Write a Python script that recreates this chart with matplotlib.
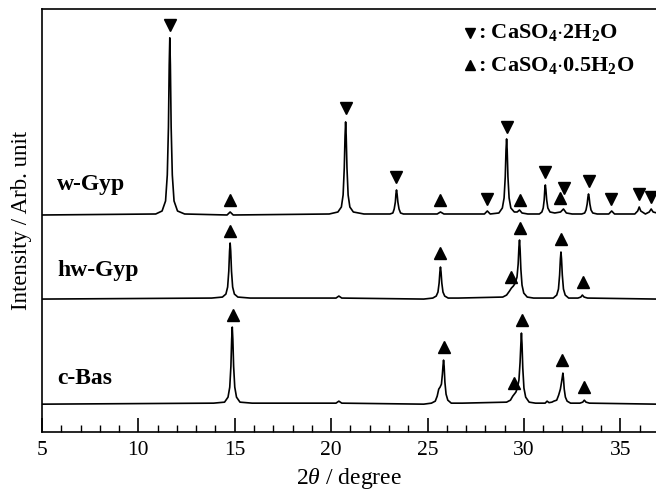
import matplotlib
matplotlib.use("Agg")
import matplotlib.pyplot as plt
from matplotlib.ticker import MultipleLocator

plt.rcParams["font.family"] = ["Liberation Serif", "DejaVu Serif"]
plt.rcParams["mathtext.fontset"] = "custom"
plt.rcParams["mathtext.rm"] = "Liberation Serif"
plt.rcParams["mathtext.it"] = "Liberation Serif:italic"
plt.rcParams["mathtext.bf"] = "Liberation Serif:bold"

# XRD traces (2theta in degree, intensity above baseline)
wgyp_2theta = [5.0, 10.9, 11.23, 11.41, 11.5, 11.56, 11.6, 11.63, 11.66, 11.7, 11.76, 11.85,
               12.03, 12.4, 14.6, 14.76, 14.92, 19.9, 20.35, 20.53, 20.62, 20.68, 20.72,
               20.75, 20.78, 20.82, 20.88, 20.97, 21.15, 21.7, 23.05, 23.2, 23.27, 23.33,
               23.36, 23.39, 23.42, 23.46, 23.52, 23.6, 23.75, 25.5, 25.67, 25.85, 27.95,
               28.1, 28.25, 28.7, 28.88, 28.97, 29.03, 29.07, 29.1, 29.13, 29.17, 29.23,
               29.32, 29.5, 29.65, 29.77, 29.9, 30.2, 30.8, 30.93, 31.0, 31.05, 31.08,
               31.11, 31.14, 31.18, 31.24, 31.35, 31.6, 31.9, 32.05, 32.2, 32.5, 33.0,
               33.15, 33.22, 33.28, 33.32, 33.35, 33.38, 33.42, 33.48, 33.57, 33.8, 34.4,
               34.55, 34.7, 35.75, 35.9, 35.98, 36.06, 36.3, 36.5, 36.6, 36.7, 36.9]
wgyp_int = [0, 1, 4, 14, 40, 88, 150, 177, 150, 88, 40, 14,
            4, 1, 0, 3, 0, 1, 3, 8, 20, 47, 79,
            93, 79, 47, 20, 8, 3, 1, 1, 2, 6, 13,
            21, 25, 21, 13, 6, 2, 1, 1, 3, 1, 1,
            4, 1, 2, 7, 17, 38, 65, 76, 65, 38, 17,
            7, 3, 3, 5, 2, 1, 1, 3, 7, 15, 25,
            30, 25, 15, 7, 3, 2, 3, 6, 2, 1, 1,
            2, 5, 11, 18, 21, 18, 11, 5, 2, 1, 1,
            4, 1, 1, 4, 8, 4, 1, 3, 6, 3, 2]

hwgyp_2theta = [5.0, 13.8, 14.36, 14.54, 14.63, 14.69, 14.73, 14.76, 14.79, 14.83, 14.89,
                14.98, 15.16, 15.8, 20.25, 20.4, 20.55, 24.8, 25.27, 25.45, 25.54, 25.6,
                25.64, 25.67, 25.7, 25.74, 25.8, 25.89, 26.07, 26.6, 28.9, 29.1, 29.25,
                29.35, 29.45, 29.55, 29.64, 29.7, 29.74, 29.77, 29.8, 29.84, 29.9, 29.99,
                30.17, 30.5, 31.52, 31.7, 31.79, 31.85, 31.89, 31.92, 31.95, 31.99, 32.05,
                32.14, 32.32, 32.8, 32.95, 33.03, 33.12, 33.3, 36.9]
hwgyp_int = [0, 1, 2, 5, 12, 28, 48, 56, 48, 28, 12,
             5, 2, 1, 1, 3, 1, 0, 1, 3, 7, 16,
             27, 32, 27, 16, 7, 3, 1, 1, 2, 4, 8,
             11, 13, 16, 22, 35, 52, 59, 50, 30, 14, 6,
             2, 1, 1, 4, 10, 24, 40, 47, 40, 24, 10,
             4, 1, 1, 2, 4, 2, 1, 0]

cbas_2theta = [5.0, 13.9, 14.47, 14.65, 14.74, 14.8, 14.84, 14.87, 14.9, 14.94, 15.0,
               15.09, 15.27, 15.9, 20.25, 20.4, 20.55, 24.8, 25.2, 25.4, 25.5, 25.58,
               25.65, 25.72, 25.77, 25.8, 25.83, 25.86, 25.9, 25.96, 26.05, 26.23, 26.8,
               29.1, 29.3, 29.42, 29.5, 29.58, 29.66, 29.74, 29.8, 29.84, 29.87, 29.9,
               29.94, 30.0, 30.09, 30.27, 30.6, 31.1, 31.2, 31.3, 31.45, 31.55, 31.7,
               31.8, 31.89, 31.95, 31.99, 32.02, 32.05, 32.09, 32.15, 32.24, 32.42, 32.9,
               33.05, 33.13, 33.22, 33.4, 36.9]
cbas_int = [0, 1, 2, 7, 17, 38, 65, 77, 65, 38, 17,
            7, 2, 1, 1, 3, 1, 0, 1, 3, 8, 15,
            17, 20, 30, 38, 44, 38, 22, 10, 4, 1, 1,
            2, 4, 8, 10, 12, 16, 24, 42, 60, 71, 60,
            36, 16, 7, 2, 1, 1, 3, 1.5, 2, 3, 4,
            9, 15, 22, 27, 31, 26, 15, 7, 3, 1, 1,
            2, 4, 2, 1, 0]

sample_names = ["w-Gyp", "hw-Gyp", "c-Bas"]

# phase markers: (2theta, height in plot units)
wgyp_dihydrate_x = [11.63, 20.75, 23.38, 28.08, 29.1, 31.1, 32.1, 33.35, 34.53, 35.98, 36.6]
wgyp_dihydrate_y = [407, 324, 255, 233, 305, 260, 244, 251, 233, 238, 235]
wgyp_hemi_x = [14.76, 25.66, 29.77, 31.86]
wgyp_hemi_y = [232, 232, 232, 234]
hwgyp_hemi_x = [14.76, 25.67, 29.35, 29.77, 31.9, 33.05]
hwgyp_hemi_y = [201, 179, 155, 204, 193, 150]
cbas_hemi_x = [14.9, 25.85, 29.47, 29.88, 32.0, 33.13]
cbas_hemi_y = [117, 85, 49, 112, 72, 45]

offsets = {"w-Gyp": 217, "hw-Gyp": 133, "c-Bas": 28}
label_y = {"w-Gyp": 247, "hw-Gyp": 162, "c-Bas": 54}

fig = plt.figure(figsize=(6.56, 4.9), dpi=100)
ax = fig.add_axes([0.064, 0.118, 0.936, 0.864])

traces = [(wgyp_2theta, wgyp_int), (hwgyp_2theta, hwgyp_int), (cbas_2theta, cbas_int)]
for name, (tt, inten) in zip(sample_names, traces):
    ax.plot(tt, [v + offsets[name] for v in inten], color="black", lw=1.2)
    ax.text(5.8, label_y[name], name, fontsize=17, fontweight="bold", va="center")

ms = 8
ax.plot(wgyp_dihydrate_x, wgyp_dihydrate_y, "kv", ms=ms, ls="none", clip_on=False)
for xs, ys in [(wgyp_hemi_x, wgyp_hemi_y), (hwgyp_hemi_x, hwgyp_hemi_y),
               (cbas_hemi_x, cbas_hemi_y)]:
    ax.plot(xs, ys, "k^", ms=ms, ls="none", clip_on=False)

# legend
ax.plot([0.697], [0.944], "kv", ms=7.5, transform=ax.transAxes)
ax.plot([0.697], [0.867], "k^", ms=7.5, transform=ax.transAxes)
ax.text(0.71, 0.944, r": $\mathbf{CaSO_4}$$\mathbf{\cdot 2H_2O}$", transform=ax.transAxes,
        fontsize=16, fontweight="bold", va="center")
ax.text(0.71, 0.867, r": $\mathbf{CaSO_4}$$\mathbf{\cdot 0.5H_2O}$", transform=ax.transAxes,
        fontsize=16, fontweight="bold", va="center")

ax.set_xlim(5, 36.85)
ax.set_ylim(0, 423)
ax.set_yticks([])
ax.xaxis.set_major_locator(MultipleLocator(5))
ax.xaxis.set_minor_locator(MultipleLocator(1))
ax.tick_params(axis="x", which="major", direction="in", length=10, width=1.2,
               labelsize=15.5, pad=6)
ax.tick_params(axis="x", which="minor", direction="in", length=5, width=1.0)
ax.spines["right"].set_visible(False)
for s in ["left", "top", "bottom"]:
    ax.spines[s].set_linewidth(1.2)

ax.set_xlabel(r"2$\it{\theta}$ / degree", fontsize=17, labelpad=5)
ax.set_ylabel("Intensity / Arb. unit", fontsize=16.5, labelpad=7)

fig.savefig("out.png", dpi=100)
